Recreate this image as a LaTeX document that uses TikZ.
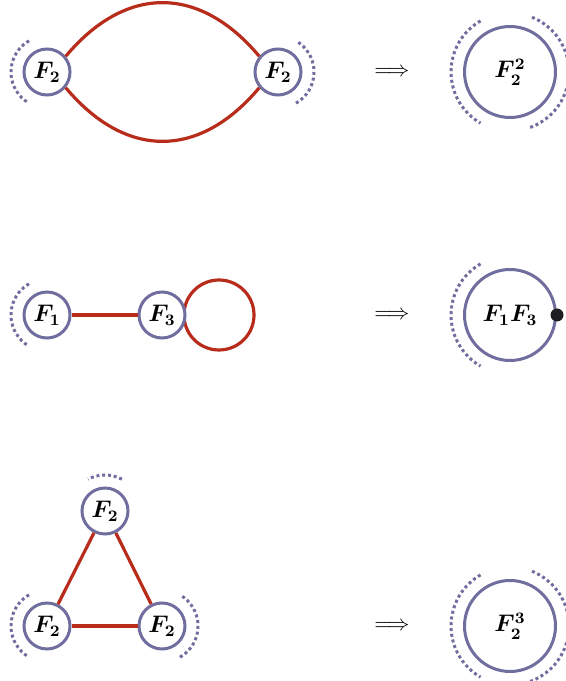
\documentclass[tikz,border=0pt]{standalone}
\usetikzlibrary{positioning}
\usetikzlibrary{backgrounds}

\definecolor{vertcol}{RGB}{112,110,158}
\definecolor{edgecol}{RGB}{184,44,28}
\definecolor{pincol}{RGB}{30,30,34}

\tikzset{
    vert/.style    = {circle, draw = vertcol, line width = 1.5pt, fill = white,
                      minimum size = 23pt, inner sep = 0pt,
                      font = \fontsize{11.5}{14}\selectfont\boldmath},
    bigvert/.style = {vert, minimum size = 45.5pt},
    link/.style    = {draw = edgecol, line width = 1.6pt},
    halo/.style    = {draw = vertcol, line width = 1.5pt, dash pattern = on 1.5pt off 1.4pt},
    implies/.style = {inner sep = 0pt, text = black, font = \fontsize{11}{13}\selectfont},
    pin dot/.style = {circle, fill = pincol, inner sep = 0pt, minimum size = 6.5pt}
}

\begin{document}
\begin{tikzpicture}[x = 0.5pt, y = 0.5pt]

    \useasboundingbox (0,0) rectangle (566,681);

    \def\rowI{609}
    \def\rowII{366}
    \def\rowIII{55}
    \def\smallhalo{36}
    \def\bighalo{59}
    \def\loopRad{35}
    \def\lensCtrl{93.3}

    % first row: F2 -- F2 twice
    \node[vert] (AL) at ( 47,\rowI) {$F_2$};
    \node[vert] (AR) at (278,\rowI) {$F_2$};
    \draw[link] (AL.40)  .. controls +( 50:\lensCtrl) and +( 130:\lensCtrl) .. (AR.140);
    \draw[link] (AL.-40) .. controls +(-50:\lensCtrl) and +(-130:\lensCtrl) .. (AR.-140);
    \node[implies] (ArrI) at (392,\rowI) {$\Longrightarrow$};
    \node[bigvert] (AB) at (510,\rowI) {$F_2^2$};

    % second row: F1 -- F3 with a loop
    \node[vert] (BL) at ( 47,\rowII) {$F_1$};
    \node[vert] (BR) at (162,\rowII) {$F_3$};
    \draw[link] (BL) -- (BR);
    \begin{scope}[on background layer]
        \draw[link] (BR.center) ++(57,0) circle [radius = \loopRad];
    \end{scope}
    \node[implies] (ArrII) at (392,\rowII) {$\Longrightarrow$};
    \node[bigvert] (BB) at (510,\rowII) {$F_1F_3$};
    \node[pin dot] (BPin) at (BB.east) {};

    % third row: triangle of F2
    \node[vert] (CT) at (105,170)      {$F_2$};
    \node[vert] (CL) at ( 47,\rowIII)  {$F_2$};
    \node[vert] (CR) at (162,\rowIII)  {$F_2$};
    \draw[link] (CT) -- (CL);
    \draw[link] (CT) -- (CR);
    \draw[link] (CL) -- (CR);
    \node[implies] (ArrIII) at (392,\rowIII) {$\Longrightarrow$};
    \node[bigvert] (CB) at (510,\rowIII) {$F_2^3$};

    % dotted half-edges
    \foreach \NODE/\FROM/\TO/\RAD in {AL/120/240/\smallhalo, AR/-60/60/\smallhalo,
                                      AB/120/240/\bighalo, AB/-70/70/\bighalo,
                                      BL/120/240/\smallhalo, BB/120/240/\bighalo,
                                      CT/62/118/\smallhalo, CL/120/240/\smallhalo,
                                      CR/-60/60/\smallhalo,
                                      CB/120/240/\bighalo, CB/-70/70/\bighalo}{
        \draw[halo] (\NODE) ++(\FROM:\RAD) arc [start angle = \FROM, end angle = \TO, radius = \RAD];
    }

\end{tikzpicture}
\end{document}
